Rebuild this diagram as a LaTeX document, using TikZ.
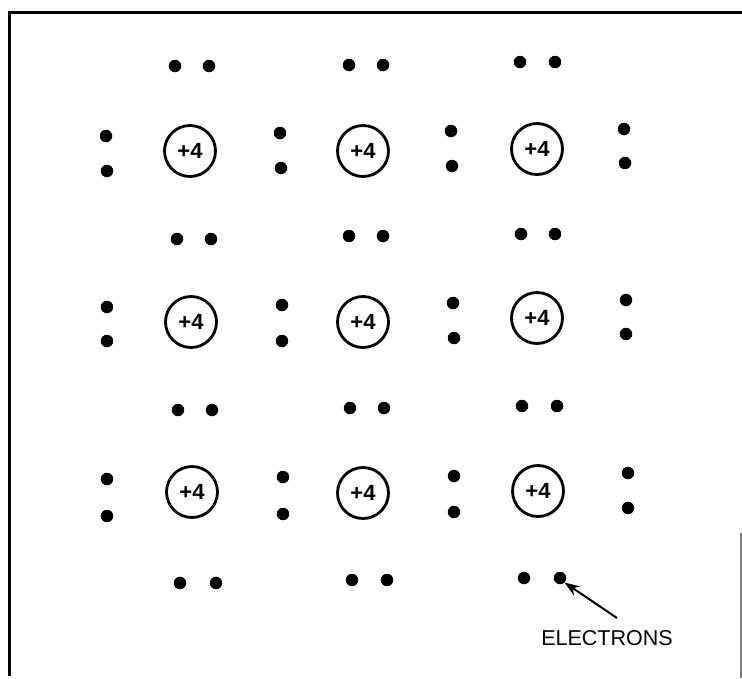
\documentclass[tikz,border=0pt]{standalone}
\usepackage{fontspec}
\setmainfont{Liberation Sans}
\usetikzlibrary{arrows.meta}
\begin{document}
\begin{tikzpicture}[x=1pt,y=-1pt,
  nucleus/.style={circle,draw,line width=2.8pt,minimum size=51pt,inner sep=0pt,font=\fontsize{22}{22}\selectfont\bfseries},
  electron/.style={circle,fill,inner sep=0pt,minimum size=12.5pt}]
\useasboundingbox (0,0) rectangle (742,678);
\fill[white] (0,0) rectangle (742,678);
% frame
\draw[line width=3pt] (9,676) -- (9,12) -- (742,12);
\draw[gray,line width=1.2pt] (741,533) -- (741,678);
% nuclei
\node[nucleus] (n11) at (190,151) {+4};
\node[nucleus] (n12) at (363,151) {+4};
\node[nucleus] (n13) at (537,149) {+4};
\node[nucleus] (n21) at (191,322) {+4};
\node[nucleus] (n22) at (363,322) {+4};
\node[nucleus] (n23) at (537,318) {+4};
\node[nucleus] (n31) at (192,492) {+4};
\node[nucleus] (n32) at (363,493) {+4};
\node[nucleus] (n33) at (538,491) {+4};
% horizontal electron pairs
\node[electron] (h1a) at (175,66) {};  \node[electron] (h1b) at (209,66) {};
\node[electron] (h1c) at (349,65) {};  \node[electron] (h1d) at (383,65) {};
\node[electron] (h1e) at (520,62) {};  \node[electron] (h1f) at (555,62) {};
\node[electron] (h2a) at (177,239) {}; \node[electron] (h2b) at (211,239) {};
\node[electron] (h2c) at (349,236) {}; \node[electron] (h2d) at (383,236) {};
\node[electron] (h2e) at (521,234) {}; \node[electron] (h2f) at (555,234) {};
\node[electron] (h3a) at (178,410) {}; \node[electron] (h3b) at (212,410) {};
\node[electron] (h3c) at (350,408) {}; \node[electron] (h3d) at (384,408) {};
\node[electron] (h3e) at (522,406) {}; \node[electron] (h3f) at (557,406) {};
\node[electron] (h4a) at (180,583) {}; \node[electron] (h4b) at (216,583) {};
\node[electron] (h4c) at (352,580) {}; \node[electron] (h4d) at (387,580) {};
\node[electron] (h4e) at (524,578) {}; \node[electron] (h4f) at (560,578) {};
% vertical electron pairs
\node[electron] (v1a) at (106,136) {}; \node[electron] (v1b) at (107,171) {};
\node[electron] (v1c) at (280,133) {}; \node[electron] (v1d) at (281,168) {};
\node[electron] (v1e) at (451,131) {}; \node[electron] (v1f) at (452,166) {};
\node[electron] (v1g) at (624,129) {}; \node[electron] (v1h) at (625,163) {};
\node[electron] (v2a) at (107,307) {}; \node[electron] (v2b) at (107,341) {};
\node[electron] (v2c) at (282,305) {}; \node[electron] (v2d) at (282,341) {};
\node[electron] (v2e) at (453,303) {}; \node[electron] (v2f) at (454,338) {};
\node[electron] (v2g) at (626,300) {}; \node[electron] (v2h) at (626,334) {};
\node[electron] (v3a) at (107,479) {}; \node[electron] (v3b) at (107,516) {};
\node[electron] (v3c) at (283,477) {}; \node[electron] (v3d) at (283,514) {};
\node[electron] (v3e) at (454,476) {}; \node[electron] (v3f) at (454,512) {};
\node[electron] (v3g) at (628,473) {}; \node[electron] (v3h) at (628,508) {};
% label and arrow
\node[font=\fontsize{21.5}{22}\selectfont] (lbl) at (607,638) {ELECTRONS};
\coordinate (tail) at (617,618);
\draw[line width=2pt,-{Stealth[length=15pt,width=11pt]}] (tail) -- (h4f.south east);
\end{tikzpicture}
\end{document}
